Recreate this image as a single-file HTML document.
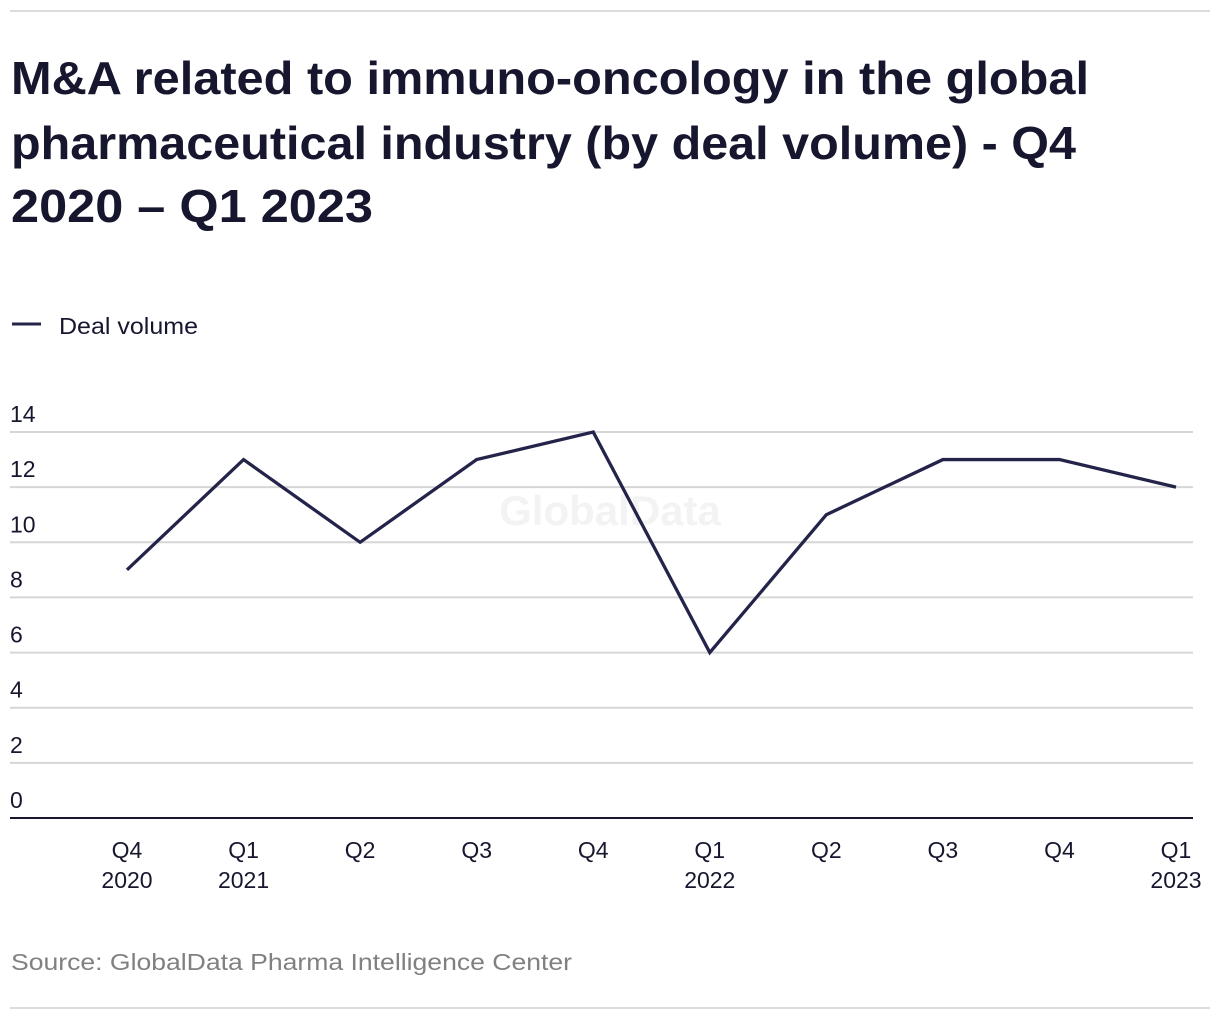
<!DOCTYPE html>
<html><head><meta charset="utf-8"><style>
body{margin:0;background:#fff;font-family:"Liberation Sans",sans-serif;}
svg{display:block}
</style></head><body>
<svg width="1220" height="1020">
<line x1="10" y1="11" x2="1210" y2="11" stroke="#dcdcdc" stroke-width="2"/>
<g font-weight="bold" font-size="46" fill="#16172e">
<text x="11" y="94" textLength="1078" lengthAdjust="spacingAndGlyphs">M&amp;A related to immuno-oncology in the global</text>
<text x="11" y="159" textLength="1065" lengthAdjust="spacingAndGlyphs">pharmaceutical industry (by deal volume) - Q4</text>
<text x="11" y="222" textLength="362" lengthAdjust="spacingAndGlyphs">2020 – Q1 2023</text>
</g>
<g>
<line x1="12" y1="324" x2="41" y2="324" stroke="#24244a" stroke-width="3"/>
<text x="59" y="334" font-size="23" fill="#16172e" textLength="139" lengthAdjust="spacingAndGlyphs">Deal volume</text>
</g>
<text x="610" y="525" text-anchor="middle" font-size="42" font-weight="bold" fill="#f3f3f3">GlobalData</text>
<g id="grid"></g><g id="xl"></g>
<path id="ln" fill="none" stroke="#24244a" stroke-width="3.3"/>
<text x="11" y="970" font-size="23" fill="#808080" textLength="561" lengthAdjust="spacingAndGlyphs">Source: GlobalData Pharma Intelligence Center</text>
<line x1="10" y1="1008" x2="1210" y2="1008" stroke="#dcdcdc" stroke-width="2"/>
</svg>
<script>
const categories=["Q4|2020","Q1|2021","Q2","Q3","Q4","Q1|2022","Q2","Q3","Q4","Q1|2023"];
const dealVolume=[9,13,10,13,14,6,11,13,13,12];
const yTicks=[0,2,4,6,8,10,12,14];
const NS="http://www.w3.org/2000/svg";
const y=v=>818-v*(818-432)/14;
const x=i=>127+i*(1176-127)/9;
const g=document.getElementById('grid'),xl=document.getElementById('xl');
yTicks.forEach(t=>{
 const l=document.createElementNS(NS,'line');
 l.setAttribute('x1',10);l.setAttribute('x2',1193);l.setAttribute('y1',y(t));l.setAttribute('y2',y(t));
 l.setAttribute('stroke',t===0?'#16172e':'#d6d6d6');l.setAttribute('stroke-width',2);
 
 
 g.appendChild(l);
 const tx=document.createElementNS(NS,'text');
 tx.setAttribute('x',10);tx.setAttribute('y',y(t)-10);tx.setAttribute('font-size',23);tx.setAttribute('fill','#16172e');
 tx.textContent=t;
 
 
 g.appendChild(tx);
});
categories.forEach((c,i)=>{
 c.split('|').forEach((p,j)=>{
  const tx=document.createElementNS(NS,'text');
  tx.setAttribute('x',x(i));tx.setAttribute('y',858+j*30);tx.setAttribute('text-anchor','middle');
  tx.setAttribute('font-size',23);tx.setAttribute('fill','#16172e');tx.textContent=p;
  
  
  xl.appendChild(tx);
 });
});
document.getElementById('ln').setAttribute('d',dealVolume.map((v,i)=>(i?'L':'M')+x(i)+' '+y(v)).join(' '));
</script>
</body></html>
